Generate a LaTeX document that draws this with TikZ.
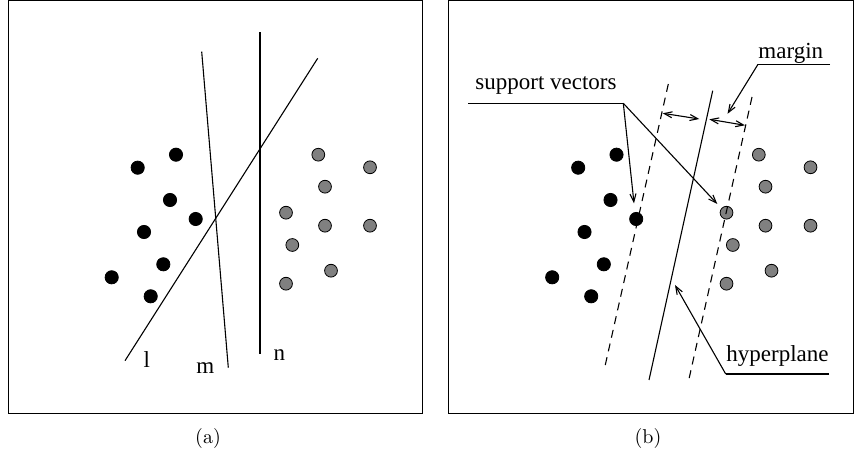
\documentclass[tikz,border=0pt]{standalone}
\usepackage{fontspec}
\newfontfamily\tms{Liberation Serif}
\usetikzlibrary{arrows.meta}
\begin{document}
\begin{tikzpicture}[x=0.5pt,y=-0.5pt,
  frame/.style={draw=black,line width=0.5pt},
  ln/.style={draw=black,line width=0.55pt},
  dln/.style={ln,dash pattern=on 4pt off 3pt},
  bdot/.style={circle,fill=black,draw=black,line width=0.4pt,minimum size=6.6pt,inner sep=0pt},
  gdot/.style={circle,fill=gray,draw=black,line width=0.4pt,minimum size=6.4pt,inner sep=0pt},
  lbl/.style={anchor=base west,inner sep=0pt,font=\tms\fontsize{11.5}{13}\selectfont},
  captxt/.style={anchor=base,inner sep=0pt,font=\fontsize{10}{12}\selectfont},
  arr/.style={ln,-{Straight Barb[length=4pt,width=3pt]}},
  darr/.style={ln,{Straight Barb[length=4pt,width=3pt]}-{Straight Barb[length=4pt,width=3pt]}}]
\useasboundingbox (0,0) rectangle (854,458);
% frames
\draw[frame] (8,1) rectangle (422,413);
\draw[frame] (448,1) rectangle (853,413);
% dots, both panels
\foreach \dx/\p in {0/a,440.5/b}{
  \foreach \x/\y [count=\i] in {176/154.7,137.7/167.7,170/200,195.7/219,144/232,163.3/264.3,111.7/277.3,150.7/296.3}
    \node[bdot] (\p k\i) at (\x+\dx,\y) {};
  \foreach \x/\y [count=\i] in {318.3/154.7,370/167.3,325/186.7,286/212.7,325/225.7,370/225.7,292.3/245,331/270.7,286/283.7}
    \node[gdot] (\p g\i) at (\x+\dx,\y) {};
}
% panel (a) lines
\coordinate (m1) at (201.7,51.7); \coordinate (m2) at (228.3,367.7);
\coordinate (n1) at (260,32.3);   \coordinate (n2) at (260,354.3);
\coordinate (l1) at (125,360.7);  \coordinate (l2) at (317.7,58.3);
\draw[ln] (m1) -- (m2);
\draw[ln] (n1) -- (n2);
\draw[ln] (l1) -- (l2);
\node[lbl] (ll) at (143.3,367.3) {l};
\node[lbl] (ml) at (196,373.3) {m};
\node[lbl] (nl) at (273.3,360.7) {n};
\node[captxt] (capa) at (208,443) {(a)};
% panel (b) lines
\coordinate (h1) at (712.7,90.7); \coordinate (h2) at (649,380);
\coordinate (d1) at (668.3,84);   \coordinate (d2) at (604.3,369.3);
\coordinate (e1) at (752,97);     \coordinate (e2) at (688.3,382);
\draw[ln] (h1) -- (h2);
\draw[dln] (d1) -- (d2);
\draw[dln] (e1) -- (e2);
% margin arrows
\coordinate (ma1) at (662.7,113.3); \coordinate (ma2) at (699.3,119);
\coordinate (mb1) at (709.3,119.3); \coordinate (mb2) at (745,125.3);
\draw[darr] (ma1) -- (ma2);
\draw[darr] (mb1) -- (mb2);
% margin label
\node[lbl] (mg) at (758,58.3) {margin};
\coordinate (mgu1) at (758,64.3); \coordinate (mgu2) at (830,64.3);
\coordinate (mgt) at (727.5,113.8);
\draw[ln] (mgu2) -- (mgu1);
\draw[arr] (mgu1) -- (mgt);
% support vectors label
\node[lbl] (sv) at (475,90) {support vectors};
\coordinate (svu1) at (468.3,103.3); \coordinate (svu2) at (623.3,103.3);
\coordinate (svt1) at (634,203.3); \coordinate (svt2) at (717.3,204);
\draw[ln] (svu1) -- (svu2);
\draw[arr] (svu2) -- (svt1);
\draw[arr] (svu2) -- (svt2);
% hyperplane label
\node[lbl] (hp) at (726,361.7) {hyperplane};
\coordinate (hpu1) at (725.7,374); \coordinate (hpu2) at (829,374);
\coordinate (hpt) at (675,285);
\draw[ln] (hpu2) -- (hpu1);
\draw[arr] (hpu1) -- (hpt);
\node[captxt] (capb) at (648,443) {(b)};
\end{tikzpicture}
\end{document}
